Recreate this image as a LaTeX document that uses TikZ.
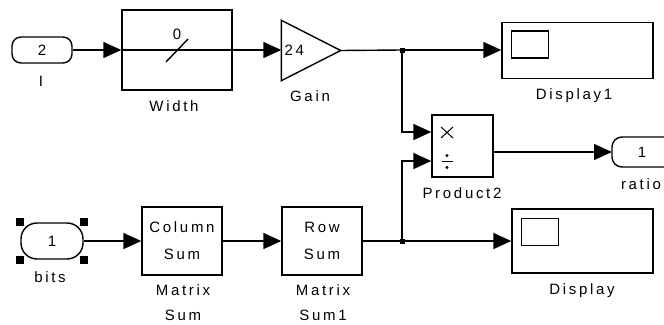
\documentclass[tikz,border=0pt]{standalone}
\usepackage{fontspec}
\newfontfamily\simfont[LetterSpace=18]{Liberation Sans}
\usetikzlibrary{arrows.meta,calc}
\begin{document}
\begin{tikzpicture}[x=1pt,y=-1pt,line width=1.4pt,
  txt/.style={font=\simfont\fontsize{15}{25}\selectfont, inner sep=0pt, align=center},
  blkbox/.style={draw, inner sep=0pt, align=center, font=\simfont\fontsize{15}{27}\selectfont},
  port/.style={draw, rounded corners=9pt, inner sep=0pt, font=\simfont\fontsize{15}{25}\selectfont},
  conn/.style={-{Triangle[length=18pt,width=16pt]}},
  jdot/.style={fill, inner sep=0pt, minimum size=5pt},
  handle/.style={fill, inner sep=0pt, minimum size=8pt},
]
\useasboundingbox (0,0) rectangle (664,324);
\fill[white] (0,0) rectangle (664,324);

% inport 2
\node[port, minimum width=60pt, minimum height=26pt] (in2) at (42,50) {2};
\node[txt] (in2lbl) at (41,81) {I};

% Width block
\node[blkbox, minimum width=110pt, minimum height=80pt] (width) at (177,50) {};
\node[txt] (wzero) at (177,34) {0};
\draw (width.west) -- (width.east);
\draw (166,62) -- (188,39);
\node[txt] (widthlbl) at (174,106) {Width};

% Gain
\node[minimum width=58pt, minimum height=59pt, inner sep=0pt] (gain) at (311,50.5) {};
\draw (gain.north west) -- (gain.east) -- (gain.south west) -- cycle;
\node[txt, anchor=west] (gaink) at (284,50) {24};
\node[txt] (gainlbl) at (310,96) {Gain};

% Display1
\node[blkbox, minimum width=151pt, minimum height=56pt] (disp1) at (577.5,50.5) {};
\draw ([shift={(10,9)}]disp1.north west) rectangle +(37,27);
\node[txt] (disp1lbl) at (574,96) {Display1};

% Product2
\node[blkbox, minimum width=61pt, minimum height=62pt] (prod) at (462.5,146) {};
\draw[line width=1pt] (441,127) -- (453,138) (441,138) -- (453,127);
\draw[line width=1.2pt] (441.5,161.5) -- (452.5,161.5);
\fill (447,155.5) circle (1.6pt) (447,167.5) circle (1.6pt);
\node[txt] (prodlbl) at (462,193) {Product2};

% outport ratio
\draw[rounded corners=10pt] (664,137) -- (612,137) -- (612,167) -- (664,167);
\coordinate (ratioin) at (612,152);
\node[txt] (ratio1) at (642,152) {1};
\node[txt] (ratiolbl) at (641,184) {ratio};

% Display
\node[blkbox, minimum width=141pt, minimum height=64pt] (disp) at (582.5,241) {};
\draw ([shift={(10,10)}]disp.north west) rectangle +(37,27);
\node[txt] (displbl) at (582,291) {Display};

% bits inport
\node[port, rounded corners=16pt, minimum width=62pt, minimum height=36pt] (bits) at (52,241) {1};
\node[handle] (h1) at (bits.north west) {};
\node[handle] (h2) at (bits.north east) {};
\node[handle] (h3) at (bits.south west) {};
\node[handle] (h4) at (bits.south east) {};
\node[txt] (bitslbl) at (50,277) {bits};

% Matrix sums
\node[blkbox, minimum width=80pt, minimum height=68pt] (colsum) at (182,241) {Column\\Sum};
\node[txt] (collbl) at (183,303) {Matrix\\Sum};
\node[blkbox, minimum width=80pt, minimum height=68pt] (rowsum) at (322,241) {Row\\Sum};
\node[txt] (rowlbl) at (323,303) {Matrix\\Sum1};

% junctions
\node[jdot] (j1) at (402,50) {};
\node[jdot] (j2) at (402,241) {};
\coordinate (pin1) at ($(prod.west)+(0,-14)$);
\coordinate (pin2) at ($(prod.west)+(0,15)$);

% connectors
\draw[conn] (in2.east) -- (width.west);
\draw[conn] (width.east) -- (width.east -| gain.west);
\draw (gain.east) -- (j1.center);
\draw[conn] (j1.center) -- (disp1.west |- j1);
\draw[conn] (j1.center) |- (pin1);
\draw[conn] (j2.center) |- (pin2);
\draw[conn] (ratioin -| prod.east) -- (ratioin);
\draw[conn] (bits.east) -- (colsum.west);
\draw[conn] (colsum.east) -- (rowsum.west);
\draw (rowsum.east) -- (j2.center);
\draw[conn] (j2.center) -- (disp.west |- j2);
\end{tikzpicture}
\end{document}
